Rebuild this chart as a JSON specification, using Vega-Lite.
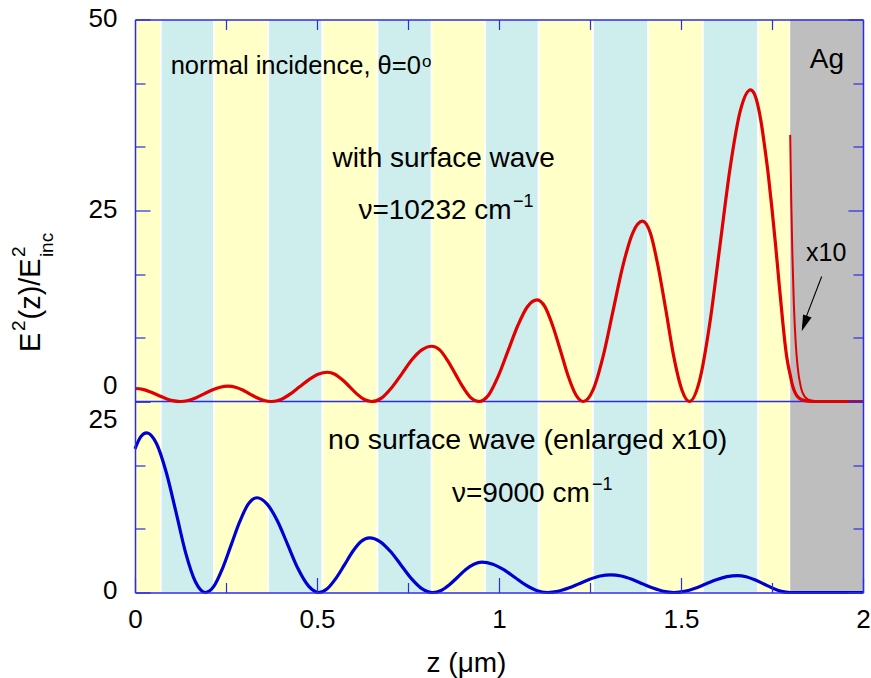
{
  "$schema": "https://vega.github.io/schema/vega-lite/v6.json",
  "width": 728,
  "height": 573,
  "autosize": {"type": "none"},
  "padding": {"left": 135, "top": 19.5, "right": 8, "bottom": 85.5},
  "background": "white",
  "config": {
    "view": {"stroke": null},
    "font": "Liberation Sans",
    "text": {"font": "Liberation Sans", "color": "black"}
  },
  "datasets": {
    "stack": [
      {"z0": 0.0, "z1": 0.071, "layer": "A"},
      {"z0": 0.071, "z1": 0.217, "layer": "B"},
      {"z0": 0.217, "z1": 0.366, "layer": "A"},
      {"z0": 0.366, "z1": 0.515, "layer": "B"},
      {"z0": 0.515, "z1": 0.666, "layer": "A"},
      {"z0": 0.666, "z1": 0.815, "layer": "B"},
      {"z0": 0.815, "z1": 0.962, "layer": "A"},
      {"z0": 0.962, "z1": 1.109, "layer": "B"},
      {"z0": 1.109, "z1": 1.258, "layer": "A"},
      {"z0": 1.258, "z1": 1.41, "layer": "B"},
      {"z0": 1.41, "z1": 1.56, "layer": "A"},
      {"z0": 1.56, "z1": 1.712, "layer": "B"},
      {"z0": 1.712, "z1": 1.8, "layer": "A"}
    ],
    "metal": [{"z0": 1.8, "z1": 2.0, "name": "Ag"}],
    "with_sw": [
      {"z": 0, "e2": 1.7}, {"z": 0.021, "e2": 1.59}, {"z": 0.041, "e2": 1.28}, {"z": 0.062, "e2": 0.85},
      {"z": 0.083, "e2": 0.43}, {"z": 0.103, "e2": 0.11}, {"z": 0.124, "e2": 0},
      {"z": 0.146, "e2": 0.13}, {"z": 0.168, "e2": 0.5}, {"z": 0.19, "e2": 1.0}, {"z": 0.212, "e2": 1.5},
      {"z": 0.234, "e2": 1.87}, {"z": 0.256, "e2": 2.0}, {"z": 0.276, "e2": 1.87}, {"z": 0.296, "e2": 1.5},
      {"z": 0.315, "e2": 1.0}, {"z": 0.335, "e2": 0.5}, {"z": 0.355, "e2": 0.13}, {"z": 0.375, "e2": 0},
      {"z": 0.401, "e2": 0.26}, {"z": 0.426, "e2": 0.96}, {"z": 0.452, "e2": 1.92}, {"z": 0.478, "e2": 2.87},
      {"z": 0.503, "e2": 3.57}, {"z": 0.529, "e2": 3.83}, {"z": 0.549, "e2": 3.57}, {"z": 0.569, "e2": 2.87},
      {"z": 0.59, "e2": 1.92}, {"z": 0.61, "e2": 0.96}, {"z": 0.63, "e2": 0.26}, {"z": 0.65, "e2": 0},
      {"z": 0.678, "e2": 0.48}, {"z": 0.705, "e2": 1.81}, {"z": 0.733, "e2": 3.62}, {"z": 0.76, "e2": 5.42},
      {"z": 0.788, "e2": 6.75}, {"z": 0.815, "e2": 7.23}, {"z": 0.837, "e2": 6.75}, {"z": 0.858, "e2": 5.42},
      {"z": 0.88, "e2": 3.62}, {"z": 0.902, "e2": 1.81}, {"z": 0.923, "e2": 0.48}, {"z": 0.945, "e2": 0},
      {"z": 0.972, "e2": 0.89}, {"z": 0.998, "e2": 3.33}, {"z": 1.025, "e2": 6.65}, {"z": 1.052, "e2": 9.98},
      {"z": 1.078, "e2": 12.41}, {"z": 1.105, "e2": 13.3}, {"z": 1.126, "e2": 12.41}, {"z": 1.147, "e2": 9.98},
      {"z": 1.169, "e2": 6.65}, {"z": 1.19, "e2": 3.33}, {"z": 1.211, "e2": 0.89}, {"z": 1.232, "e2": 0},
      {"z": 1.259, "e2": 1.58}, {"z": 1.286, "e2": 5.9}, {"z": 1.313, "e2": 11.8}, {"z": 1.34, "e2": 17.7},
      {"z": 1.367, "e2": 22.02}, {"z": 1.394, "e2": 23.6}, {"z": 1.416, "e2": 22.02}, {"z": 1.437, "e2": 17.7},
      {"z": 1.459, "e2": 11.8}, {"z": 1.48, "e2": 5.9}, {"z": 1.502, "e2": 1.58}, {"z": 1.523, "e2": 0},
      {"z": 1.551, "e2": 2.73}, {"z": 1.579, "e2": 10.2}, {"z": 1.607, "e2": 20.4}, {"z": 1.635, "e2": 30.6},
      {"z": 1.663, "e2": 38.07}, {"z": 1.691, "e2": 40.8}, {"z": 1.7, "e2": 40.4}, {"z": 1.71, "e2": 39.0},
      {"z": 1.72, "e2": 36.6}, {"z": 1.73, "e2": 33.3}, {"z": 1.74, "e2": 29.6}, {"z": 1.75, "e2": 25.2},
      {"z": 1.76, "e2": 20.4}, {"z": 1.77, "e2": 15.2}, {"z": 1.78, "e2": 10.2}, {"z": 1.785, "e2": 7.9},
      {"z": 1.79, "e2": 6.0}, {"z": 1.795, "e2": 4.6}, {"z": 1.8, "e2": 3.49}, {"z": 1.805, "e2": 2.35},
      {"z": 1.81, "e2": 1.55}, {"z": 1.815, "e2": 1.02}, {"z": 1.82, "e2": 0.67}, {"z": 1.83, "e2": 0.29},
      {"z": 1.84, "e2": 0.12}, {"z": 1.85, "e2": 0.05}, {"z": 1.87, "e2": 0}, {"z": 2.0, "e2": 0}
    ],
    "with_sw_x10": [
      {"z": 1.8, "e2": 34.9}, {"z": 1.8015, "e2": 30.0}, {"z": 1.803, "e2": 25.9}, {"z": 1.806, "e2": 19.2},
      {"z": 1.81, "e2": 12.8}, {"z": 1.815, "e2": 7.8}, {"z": 1.82, "e2": 4.72}, {"z": 1.83, "e2": 1.74},
      {"z": 1.84, "e2": 0.64}, {"z": 1.85, "e2": 0.24}, {"z": 1.86, "e2": 0.09}, {"z": 1.875, "e2": 0.02},
      {"z": 2.0, "e2": 0}
    ],
    "no_sw": [
      {"z": 0, "e2": 18.8}, {"z": 0.016, "e2": 20.4}, {"z": 0.032, "e2": 20.9}, {"z": 0.059, "e2": 19.5},
      {"z": 0.086, "e2": 15.7}, {"z": 0.113, "e2": 10.45}, {"z": 0.139, "e2": 5.22}, {"z": 0.166, "e2": 1.4},
      {"z": 0.193, "e2": 0}, {"z": 0.217, "e2": 0.83}, {"z": 0.24, "e2": 3.1}, {"z": 0.264, "e2": 6.2},
      {"z": 0.288, "e2": 9.3}, {"z": 0.311, "e2": 11.57}, {"z": 0.335, "e2": 12.4}, {"z": 0.363, "e2": 11.57},
      {"z": 0.392, "e2": 9.3}, {"z": 0.42, "e2": 6.2}, {"z": 0.448, "e2": 3.1}, {"z": 0.477, "e2": 0.83},
      {"z": 0.505, "e2": 0}, {"z": 0.528, "e2": 0.48}, {"z": 0.551, "e2": 1.79}, {"z": 0.575, "e2": 3.58},
      {"z": 0.598, "e2": 5.36}, {"z": 0.621, "e2": 6.67}, {"z": 0.644, "e2": 7.15}, {"z": 0.673, "e2": 6.67},
      {"z": 0.702, "e2": 5.36}, {"z": 0.731, "e2": 3.58}, {"z": 0.76, "e2": 1.79}, {"z": 0.789, "e2": 0.48},
      {"z": 0.818, "e2": 0}, {"z": 0.841, "e2": 0.27}, {"z": 0.863, "e2": 0.99}, {"z": 0.886, "e2": 1.99},
      {"z": 0.908, "e2": 2.98}, {"z": 0.931, "e2": 3.7}, {"z": 0.953, "e2": 3.97}, {"z": 0.983, "e2": 3.7},
      {"z": 1.013, "e2": 2.98}, {"z": 1.043, "e2": 1.99}, {"z": 1.073, "e2": 0.99}, {"z": 1.103, "e2": 0.27},
      {"z": 1.133, "e2": 0}, {"z": 1.162, "e2": 0.155}, {"z": 1.191, "e2": 0.58}, {"z": 1.22, "e2": 1.155},
      {"z": 1.249, "e2": 1.73}, {"z": 1.278, "e2": 2.16}, {"z": 1.307, "e2": 2.31}, {"z": 1.336, "e2": 2.16},
      {"z": 1.365, "e2": 1.73}, {"z": 1.394, "e2": 1.155}, {"z": 1.423, "e2": 0.58}, {"z": 1.452, "e2": 0.155},
      {"z": 1.481, "e2": 0}, {"z": 1.51, "e2": 0.149}, {"z": 1.539, "e2": 0.555}, {"z": 1.568, "e2": 1.11},
      {"z": 1.597, "e2": 1.665}, {"z": 1.626, "e2": 2.07}, {"z": 1.655, "e2": 2.22}, {"z": 1.679, "e2": 2.07},
      {"z": 1.703, "e2": 1.665}, {"z": 1.728, "e2": 1.11}, {"z": 1.752, "e2": 0.555}, {"z": 1.776, "e2": 0.149},
      {"z": 1.8, "e2": 0}, {"z": 2.0, "e2": 0}
    ]
  },
  "layer": [
    {
      "data": {"name": "stack"},
      "mark": {"type": "rect", "stroke": "white", "strokeWidth": 1.7},
      "encoding": {
        "x": {"field": "z0", "type": "quantitative", "scale": {"domain": [0, 2], "nice": false}, "axis": null},
        "x2": {"field": "z1"},
        "color": {"field": "layer", "type": "nominal", "scale": {"domain": ["A", "B"], "range": ["#ffffc8", "#cdeeec"]}, "legend": null}
      }
    },
    {
      "data": {"name": "metal"},
      "mark": {"type": "rect", "color": "#bebebe"},
      "encoding": {
        "x": {"field": "z0", "type": "quantitative", "scale": {"domain": [0, 2], "nice": false}, "axis": null},
        "x2": {"field": "z1"}
      }
    },
    {
      "layer": [
        {
          "data": {"values": [{}]},
          "mark": {"type": "rule", "color": "#2b2be8", "strokeWidth": 1.5},
          "encoding": {
            "y": {"datum": 0, "type": "quantitative", "scale": {"domain": [0, 50], "nice": false, "range": [382, 0]}, "axis": null}
          }
        },
        {
          "data": {"name": "with_sw"},
          "mark": {"type": "line", "color": "#e00000", "strokeWidth": 3.2, "interpolate": "monotone"},
          "encoding": {
            "x": {
              "field": "z", "type": "quantitative", "scale": {"domain": [0, 2], "nice": false},
              "axis": {
                "orient": "top", "values": [0.25, 0.5, 0.75, 1, 1.25, 1.5, 1.75], "labels": false, "title": null, "grid": false,
                "domain": true, "domainColor": "#2b2be8", "domainWidth": 1.5,
                "ticks": true, "tickColor": "#2b2be8", "tickWidth": 1.2, "tickSize": -10, "zindex": 1
              }
            },
            "y": {
              "field": "e2", "type": "quantitative", "scale": {"domain": [0, 50], "nice": false, "range": [382, 0]},
              "axis": {
                "orient": "left", "values": [0, 8.3333, 16.6667, 25, 33.3333, 41.6667, 50], "title": null, "grid": false,
                "domain": true, "domainColor": "#2b2be8", "domainWidth": 1.5,
                "ticks": true, "tickColor": "#2b2be8", "tickWidth": 1.2,
                "tickSize": {"condition": {"test": "datum.value % 25 === 0", "value": -15}, "value": -10},
                "labelExpr": "datum.value % 25 === 0 ? datum.label : ''",
                "labelFont": "Liberation Sans", "labelFontSize": 26, "labelColor": "black", "labelPadding": 33,
                "labelOffset": {"condition": {"test": "datum.value === 0", "value": -16}, "value": -1.5},
                "labelOverlap": false, "labelFlush": false, "labelBound": false, "zindex": 1
              }
            }
          }
        },
        {
          "data": {"name": "with_sw_x10"},
          "mark": {"type": "line", "color": "#e00000", "strokeWidth": 2, "interpolate": "monotone"},
          "encoding": {
            "x": {"field": "z", "type": "quantitative", "scale": {"domain": [0, 2], "nice": false}},
            "y": {
              "field": "e2", "type": "quantitative", "scale": {"domain": [0, 50], "nice": false, "range": [382, 0]},
              "axis": {
                "orient": "right", "values": [0, 8.3333, 16.6667, 25, 33.3333, 41.6667, 50], "title": null, "grid": false,
                "labels": false, "domain": true, "domainColor": "#2b2be8", "domainWidth": 1.5,
                "ticks": true, "tickColor": "#2b2be8", "tickWidth": 1.2,
                "tickSize": {"condition": {"test": "datum.value % 25 === 0", "value": -15}, "value": -10},
                "zindex": 1
              }
            }
          }
        },
        {
          "data": {"values": [{}]},
          "mark": {"type": "text", "text": "normal incidence, θ=0", "fontSize": 25.5, "align": "left", "baseline": "alphabetic"},
          "encoding": {
            "x": {"datum": 0.098, "type": "quantitative", "scale": {"domain": [0, 2], "nice": false}},
            "y": {"datum": 42.87, "type": "quantitative", "scale": {"domain": [0, 50], "nice": false, "range": [382, 0]}, "axis": null}
          }
        },
        {
          "data": {"values": [{}]},
          "mark": {"type": "text", "text": "o", "fontSize": 17, "align": "left", "baseline": "alphabetic"},
          "encoding": {
            "x": {"datum": 0.7885, "type": "quantitative", "scale": {"domain": [0, 2], "nice": false}},
            "y": {"datum": 43.8, "type": "quantitative", "scale": {"domain": [0, 50], "nice": false, "range": [382, 0]}, "axis": null}
          }
        },
        {
          "data": {"values": [{}]},
          "mark": {"type": "text", "text": "with surface wave", "fontSize": 28, "align": "center", "baseline": "alphabetic"},
          "encoding": {
            "x": {"datum": 0.848, "type": "quantitative", "scale": {"domain": [0, 2], "nice": false}},
            "y": {"datum": 30.73, "type": "quantitative", "scale": {"domain": [0, 50], "nice": false, "range": [382, 0]}, "axis": null}
          }
        },
        {
          "data": {"values": [{}]},
          "mark": {"type": "text", "text": "ν=10232 cm", "fontSize": 28, "align": "right", "baseline": "alphabetic"},
          "encoding": {
            "x": {"datum": 1.0349, "type": "quantitative", "scale": {"domain": [0, 2], "nice": false}},
            "y": {"datum": 23.95, "type": "quantitative", "scale": {"domain": [0, 50], "nice": false, "range": [382, 0]}, "axis": null}
          }
        },
        {
          "data": {"values": [{}]},
          "mark": {"type": "text", "text": "−1", "fontSize": 18, "align": "left", "baseline": "alphabetic"},
          "encoding": {
            "x": {"datum": 1.0385, "type": "quantitative", "scale": {"domain": [0, 2], "nice": false}},
            "y": {"datum": 25.46, "type": "quantitative", "scale": {"domain": [0, 50], "nice": false, "range": [382, 0]}, "axis": null}
          }
        },
        {
          "data": {"name": "metal"},
          "mark": {"type": "text", "fontSize": 28, "align": "center", "baseline": "alphabetic"},
          "encoding": {
            "text": {"field": "name"},
            "x": {"datum": 1.901, "type": "quantitative", "scale": {"domain": [0, 2], "nice": false}},
            "y": {"datum": 43.6, "type": "quantitative", "scale": {"domain": [0, 50], "nice": false, "range": [382, 0]}, "axis": null}
          }
        },
        {
          "data": {"values": [{}]},
          "mark": {"type": "text", "text": "x10", "fontSize": 25, "align": "center", "baseline": "alphabetic"},
          "encoding": {
            "x": {"datum": 1.899, "type": "quantitative", "scale": {"domain": [0, 2], "nice": false}},
            "y": {"datum": 18.43, "type": "quantitative", "scale": {"domain": [0, 50], "nice": false, "range": [382, 0]}, "axis": null}
          }
        },
        {
          "data": {"values": [{}]},
          "mark": {"type": "rule", "color": "black", "strokeWidth": 1.1},
          "encoding": {
            "x": {"datum": 1.8865, "type": "quantitative", "scale": {"domain": [0, 2], "nice": false}},
            "x2": {"datum": 1.8345},
            "y": {"datum": 16.37, "type": "quantitative", "scale": {"domain": [0, 50], "nice": false, "range": [382, 0]}, "axis": null},
            "y2": {"datum": 9.9}
          }
        },
        {
          "data": {"values": [{}]},
          "mark": {"type": "point", "shape": "M0,0L0.55,2L-0.55,2Z", "filled": true, "color": "black", "opacity": 1, "size": 270, "angle": 200, "strokeWidth": 0},
          "encoding": {
            "x": {"datum": 1.8316, "type": "quantitative", "scale": {"domain": [0, 2], "nice": false}},
            "y": {"datum": 9.18, "type": "quantitative", "scale": {"domain": [0, 50], "nice": false, "range": [382, 0]}, "axis": null}
          }
        },
        {
          "data": {"values": [{}]},
          "mark": {"type": "text", "text": "E", "fontSize": 29, "angle": 270, "align": "left", "baseline": "alphabetic"},
          "encoding": {
            "x": {"datum": -0.261, "type": "quantitative", "scale": {"domain": [0, 2], "nice": false}},
            "y": {"datum": 6.48, "type": "quantitative", "scale": {"domain": [0, 50], "nice": false, "range": [382, 0]}, "axis": null}
          }
        },
        {
          "data": {"values": [{}]},
          "mark": {"type": "text", "text": "2", "fontSize": 19, "angle": 270, "align": "left", "baseline": "alphabetic"},
          "encoding": {
            "x": {"datum": -0.302, "type": "quantitative", "scale": {"domain": [0, 2], "nice": false}},
            "y": {"datum": 9.23, "type": "quantitative", "scale": {"domain": [0, 50], "nice": false, "range": [382, 0]}, "axis": null}
          }
        },
        {
          "data": {"values": [{}]},
          "mark": {"type": "text", "text": "(z)/E", "fontSize": 29, "angle": 270, "align": "left", "baseline": "alphabetic"},
          "encoding": {
            "x": {"datum": -0.261, "type": "quantitative", "scale": {"domain": [0, 2], "nice": false}},
            "y": {"datum": 10.73, "type": "quantitative", "scale": {"domain": [0, 50], "nice": false, "range": [382, 0]}, "axis": null}
          }
        },
        {
          "data": {"values": [{}]},
          "mark": {"type": "text", "text": "2", "fontSize": 19, "angle": 270, "align": "left", "baseline": "alphabetic"},
          "encoding": {
            "x": {"datum": -0.302, "type": "quantitative", "scale": {"domain": [0, 2], "nice": false}},
            "y": {"datum": 18.9, "type": "quantitative", "scale": {"domain": [0, 50], "nice": false, "range": [382, 0]}, "axis": null}
          }
        },
        {
          "data": {"values": [{}]},
          "mark": {"type": "text", "text": "inc", "fontSize": 19, "angle": 270, "align": "left", "baseline": "alphabetic"},
          "encoding": {
            "x": {"datum": -0.225, "type": "quantitative", "scale": {"domain": [0, 2], "nice": false}},
            "y": {"datum": 18.9, "type": "quantitative", "scale": {"domain": [0, 50], "nice": false, "range": [382, 0]}, "axis": null}
          }
        }
      ],
      "resolve": {"axis": {"y": "independent"}}
    },
    {
      "layer": [
        {
          "data": {"name": "no_sw"},
          "mark": {"type": "line", "color": "#0000d0", "strokeWidth": 3.2, "interpolate": "monotone"},
          "encoding": {
            "x": {
              "field": "z", "type": "quantitative", "scale": {"domain": [0, 2], "nice": false},
              "axis": {
                "orient": "bottom", "values": [0, 0.25, 0.5, 0.75, 1, 1.25, 1.5, 1.75, 2], "grid": false, "format": "~g",
                "domain": true, "domainColor": "#2b2be8", "domainWidth": 1.5,
                "ticks": true, "tickColor": "#2b2be8", "tickWidth": 1.2,
                "tickSize": {"condition": {"test": "datum.value % 0.5 === 0", "value": -15}, "value": -10},
                "labelExpr": "datum.value % 0.5 === 0 ? datum.label : ''",
                "labelFont": "Liberation Sans", "labelFontSize": 26, "labelColor": "black", "labelPadding": 29,
                "labelOverlap": false, "labelFlush": false, "labelBound": false,
                "title": "z (μm)", "titleFont": "Liberation Sans", "titleFontSize": 28, "titleFontWeight": "normal",
                "titleColor": "black", "titleX": 331, "titleY": 79, "titleAlign": "center", "titleBaseline": "alphabetic",
                "zindex": 1
              }
            },
            "y": {
              "field": "e2", "type": "quantitative", "scale": {"domain": [0, 25], "nice": false, "range": [573, 382]},
              "axis": {
                "orient": "left", "values": [0, 8.3333, 16.6667, 25], "title": null, "grid": false,
                "domain": true, "domainColor": "#2b2be8", "domainWidth": 1.5,
                "ticks": true, "tickColor": "#2b2be8", "tickWidth": 1.2,
                "tickSize": {"condition": {"test": "datum.value % 25 === 0", "value": -15}, "value": -10},
                "labelExpr": "datum.value % 25 === 0 ? datum.label : ''",
                "labelFont": "Liberation Sans", "labelFontSize": 26, "labelColor": "black", "labelPadding": 33,
                "labelOffset": {"condition": {"test": "datum.value === 25", "value": 18}, "value": -1.7},
                "labelOverlap": false, "labelFlush": false, "labelBound": false, "zindex": 1
              }
            }
          }
        },
        {
          "data": {"values": [{}]},
          "mark": {"type": "text", "text": "no surface wave (enlarged x10)", "fontSize": 28.5, "align": "center", "baseline": "alphabetic"},
          "encoding": {
            "x": {"datum": 1.0788, "type": "quantitative", "scale": {"domain": [0, 2], "nice": false}},
            "y": {
              "datum": 18.74, "type": "quantitative", "scale": {"domain": [0, 25], "nice": false, "range": [573, 382]},
              "axis": {
                "orient": "right", "values": [0, 8.3333, 16.6667, 25], "title": null, "grid": false, "labels": false,
                "domain": true, "domainColor": "#2b2be8", "domainWidth": 1.5,
                "ticks": true, "tickColor": "#2b2be8", "tickWidth": 1.2,
                "tickSize": {"condition": {"test": "datum.value % 25 === 0", "value": -15}, "value": -10},
                "zindex": 1
              }
            }
          }
        },
        {
          "data": {"values": [{}]},
          "mark": {"type": "text", "text": "ν=9000 cm", "fontSize": 28, "align": "right", "baseline": "alphabetic"},
          "encoding": {
            "x": {"datum": 1.2492, "type": "quantitative", "scale": {"domain": [0, 2], "nice": false}},
            "y": {"datum": 11.885, "type": "quantitative", "scale": {"domain": [0, 25], "nice": false, "range": [573, 382]}, "axis": null}
          }
        },
        {
          "data": {"values": [{}]},
          "mark": {"type": "text", "text": "−1", "fontSize": 18, "align": "left", "baseline": "alphabetic"},
          "encoding": {
            "x": {"datum": 1.2555, "type": "quantitative", "scale": {"domain": [0, 2], "nice": false}},
            "y": {"datum": 13.42, "type": "quantitative", "scale": {"domain": [0, 25], "nice": false, "range": [573, 382]}, "axis": null}
          }
        }
      ],
      "resolve": {"axis": {"y": "independent"}}
    }
  ],
  "resolve": {"scale": {"y": "independent"}, "axis": {"x": "independent", "y": "independent"}}
}
